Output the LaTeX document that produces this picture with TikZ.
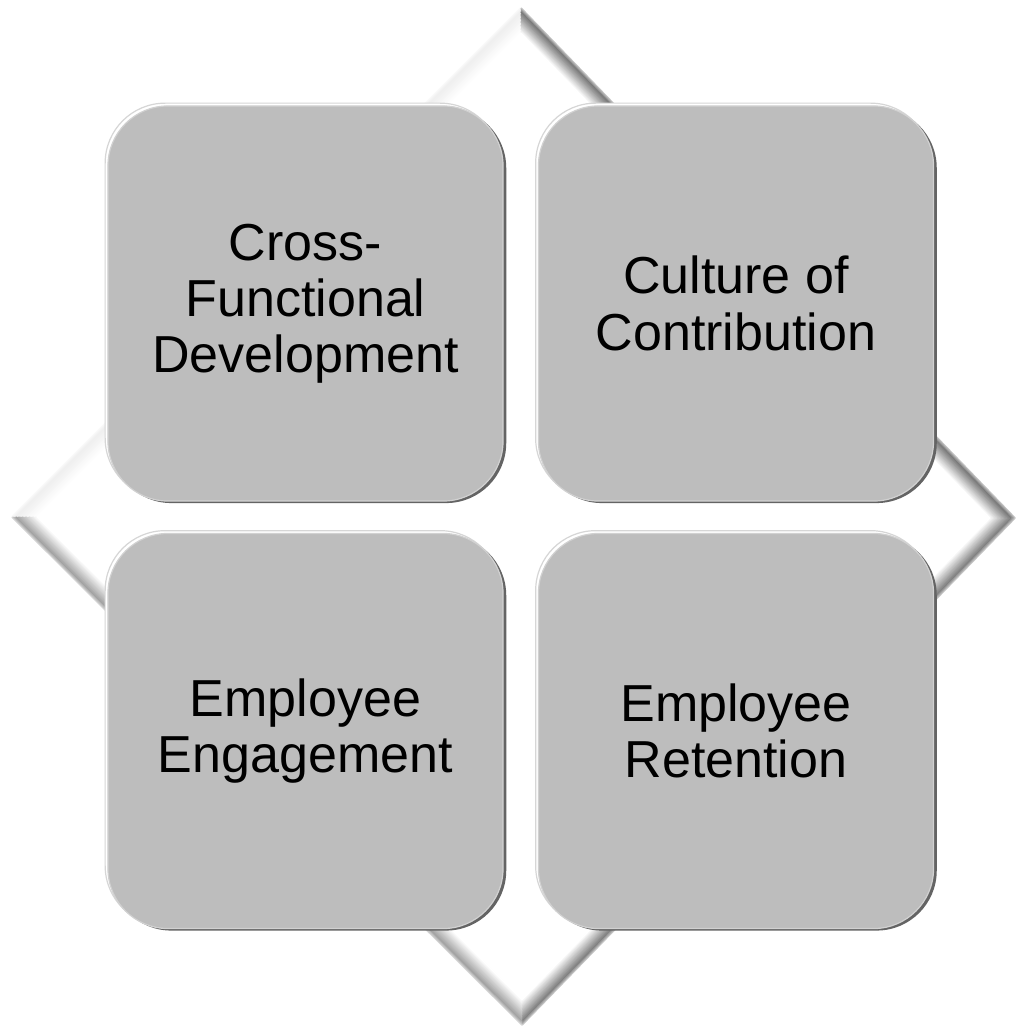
\documentclass[tikz,border=0pt]{standalone}
\usepackage{fontspec}
\setmainfont{Liberation Sans}
\usetikzlibrary{shadows}
\definecolor{tilegray}{HTML}{BDBDBD}
\definecolor{tiledark}{HTML}{646464}
\definecolor{tilelight}{HTML}{D6D6D6}
\definecolor{bevelgray}{HTML}{7A7A7A}

\begin{document}
\begin{tikzpicture}[x=0.025cm, y=-0.025cm,
		tile/.style={rectangle, rounded corners=1.5cm, minimum width=9.875cm, minimum height=9.875cm,
			fill=tilegray, draw=tilegray!70!white, line width=0.03cm, align=center,
			font=\fontsize{37}{40}\selectfont,
			general shadow={fill=tiledark, shadow xshift=0.08cm, shadow yshift=-0.05cm},
			general shadow={fill=white, draw=tilelight, line width=0.03cm, shadow xshift=-0.07cm, shadow yshift=0.07cm}}]
		\useasboundingbox (0,0) rectangle (1016,1026);
		\fill[white] (0,0) rectangle (1016,1026);
		% diamond behind the tiles, bevelled edges drawn inwards
		\foreach \d in {0,...,18} {
			\pgfmathsetmacro\k{\d<3 ? 45+18*\d : 100*(18-\d)/15}
			\pgfmathsetmacro\ktl{0.12*\k}
			\pgfmathsetmacro\kbr{0.95*\k}
			\pgfmathsetmacro\kbl{0.7*\k}
			\pgfmathsetmacro\o{1.414*\d}
			\draw[line width=0.04cm, color=bevelgray!\ktl!white] (12+\o,517) -- (521,8+\o);
			\draw[line width=0.04cm, color=bevelgray!\k!white] (521,8+\o) -- (1015-\o,518);
			\draw[line width=0.04cm, color=bevelgray!\kbr!white] (1015-\o,518) -- (522,1025-\o);
			\draw[line width=0.04cm, color=bevelgray!\kbl!white] (522,1025-\o) -- (12+\o,517);
		}
		% the four tiles
		\node[tile] (cross) at (305.5,303.5) {Cross-\\Functional\\Development};
		\node[tile] (culture) at (736,303.5) {Culture of\\Contribution};
		\node[tile] (engagement) at (305.5,731) {Employee\\Engagement};
		\node[tile] (retention) at (736,731) {Employee\\Retention};
	\end{tikzpicture}
\end{document}
